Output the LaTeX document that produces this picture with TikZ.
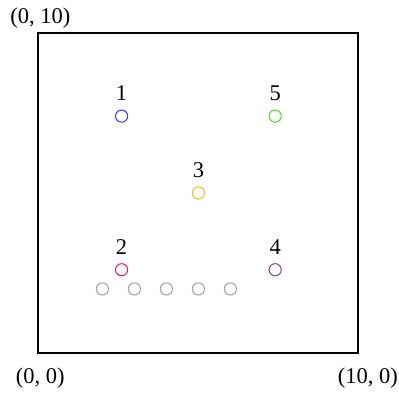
\documentclass[tikz,border=0pt]{standalone}
\usepackage{fontspec}
\setmainfont{Liberation Serif}
\usepackage{tikz}
\usepackage{xcolor}
\definecolor{pblue}{RGB}{51,51,255}
\definecolor{pred}{RGB}{240,30,80}
\definecolor{porange}{RGB}{255,185,30}
\definecolor{ppurple}{RGB}{120,70,150}
\definecolor{pgreen}{RGB}{70,220,40}
\definecolor{pgray}{RGB}{160,160,160}

\begin{document}
\begin{tikzpicture}[scale=1,
	pt/.style={circle,draw,line width=0.9pt,minimum size=0.38cm,inner sep=0pt},
	lab/.style={font=\fontsize{20}{24}\selectfont,inner sep=0pt}]
					\useasboundingbox (-1.2,-1.34) rectangle (11.27,11.03);
					\draw[line width=1.6pt] (0,0) rectangle (10,10);
					
					% labelled points
					\node[pt,pblue] (p1) at (2.6,7.4) {};
					\node[pt,pred] (p2) at (2.6,2.6) {};
					\node[pt,porange] (p3) at (5,5) {};
					\node[pt,ppurple] (p4) at (7.4,2.6) {};
					\node[pt,pgreen] (p5) at (7.4,7.4) {};
					
					\node[lab] (l1) at (2.6,8.12) {1};
					\node[lab] (l2) at (2.6,3.32) {2};
					\node[lab] (l3) at (5,5.72) {3};
					\node[lab] (l4) at (7.4,3.32) {4};
					\node[lab] (l5) at (7.4,8.12) {5};
					
					% grey row
					\foreach \x in {2,...,6}
						\node[pt,pgray] (g\x) at (\x,2) {};
					
					\node[lab] (c1) at (0.06,10.46) {(0, 10)};
					\node[lab] (c2) at (0.06,-0.78) {(0, 0)};
					\node[lab] (c3) at (10.3,-0.78) {(10, 0)};
				\end{tikzpicture}
\end{document}
